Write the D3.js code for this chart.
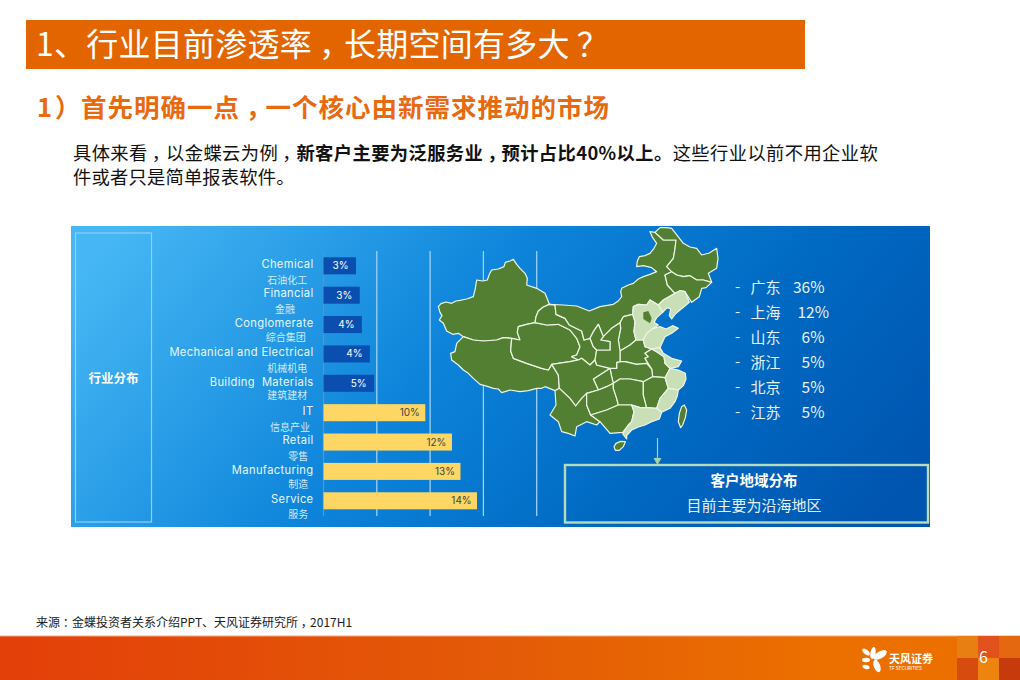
<!DOCTYPE html>
<html>
<head>
<meta charset="utf-8">
<script src="https://cdn.jsdelivr.net/npm/d3@7"></script>
<style>
  html, body { margin: 0; padding: 0; background: #fff; }
  svg { display: block; }
  text { font-family: "Noto Sans CJK SC", sans-serif; }
  .latin { font-family: Inter, "Noto Sans", sans-serif; }
</style>
</head>
<body>
<div id="slide"></div>
<script>
// industry bars
var industries = ["Chemical", "Financial", "Conglomerate", "Mechanical and Electrical", "Building  Materials", "IT", "Retail", "Manufacturing", "Service"];
var industriesZh = ["石油化工", "金融", "综合集团", "机械机电", "建筑建材", "信息产业", "零售", "制造", "服务"];
var barLengths = [3.05, 3.4, 3.6, 4.35, 4.75, 9.55, 12.05, 12.85, 14.4];
var barLabels = ["3%", "3%", "4%", "4%", "5%", "10%", "12%", "13%", "14%"];
var gridTicks = [0, 5, 10, 15, 20];

// customer regions
var regions = ["广东", "上海", "山东", "浙江", "北京", "江苏"];
var regionShares = ["36%", "12%", "6%", "5%", "5%", "5%"];

// province outlines in map units (0-900, 0-720)
var xinjiang = [[25,245],[33,236],[48,231],[65,235],[78,228],[90,226],[110,222],[130,215],[136,190],[140,165],[158,168],[172,165],[178,148],[185,135],[205,132],[222,125],[226,112],[240,108],[250,103],[260,118],[270,130],[285,145],[292,160],[290,180],[320,190],[345,205],[352,222],[358,238],[340,246],[325,258],[318,275],[315,293],[290,298],[265,305],[262,322],[270,345],[245,340],[220,338],[200,345],[160,348],[130,345],[100,335],[85,325],[68,328],[50,318],[40,295],[28,285],[36,272],[30,262]];
var tibet = [[100,335],[130,345],[160,348],[200,345],[220,338],[245,340],[242,378],[250,400],[290,415],[335,430],[355,435],[365,418],[385,450],[388,490],[375,497],[345,485],[335,490],[320,490],[295,497],[270,500],[240,495],[215,503],[205,492],[190,490],[165,482],[150,478],[130,460],[115,445],[100,435],[85,420],[65,405],[62,385],[75,380],[80,355]];
var qinghai = [[265,305],[290,298],[315,293],[350,300],[385,298],[420,315],[440,340],[450,365],[440,390],[425,395],[445,405],[420,410],[365,418],[355,435],[335,430],[290,415],[250,400],[242,378],[245,340],[270,345],[262,322]];
var gansu = [[315,293],[318,275],[325,258],[340,246],[358,238],[375,240],[378,268],[405,280],[418,300],[455,318],[462,345],[480,340],[490,365],[500,375],[495,405],[480,420],[455,400],[445,405],[425,395],[440,390],[450,365],[440,340],[420,315],[385,298],[350,300]];
var innerMongolia = [[358,238],[400,240],[440,243],[478,258],[510,245],[550,238],[565,228],[575,215],[572,200],[575,190],[595,180],[610,175],[625,162],[640,155],[660,148],[680,140],[665,128],[640,122],[620,125],[622,108],[628,95],[645,92],[660,85],[672,70],[680,55],[668,38],[660,20],[675,22],[700,45],[738,45],[735,72],[730,100],[710,125],[725,140],[705,150],[712,180],[735,205],[700,225],[685,240],[660,225],[650,240],[625,238],[610,245],[608,268],[580,275],[570,293],[545,310],[520,335],[505,298],[490,320],[480,340],[462,345],[455,318],[418,300],[405,280],[378,268],[375,240]];
var heilongjiang = [[675,22],[690,8],[710,8],[725,10],[742,32],[760,55],[780,66],[800,70],[815,90],[838,84],[860,70],[864,100],[860,130],[835,145],[845,172],[820,165],[800,165],[780,152],[760,155],[740,150],[725,140],[710,125],[730,100],[735,72],[738,45],[700,45]];
var jilin = [[705,150],[725,140],[740,150],[760,155],[780,152],[800,165],[820,165],[845,172],[828,188],[815,190],[808,215],[785,232],[765,200],[750,197],[735,205],[712,180]];
var liaoning = [[685,240],[700,225],[735,205],[750,197],[765,200],[778,232],[762,245],[750,255],[735,268],[725,282],[718,272],[722,252],[712,248],[698,262]];
var hebei = [[610,245],[625,238],[650,240],[660,225],[685,240],[698,262],[680,278],[672,292],[685,300],[670,310],[650,325],[640,345],[618,345],[612,320],[615,290],[608,268]];
var tianjinPocket = [[640,262],[655,258],[665,280],[660,295],[640,282]];
var shandong = [[650,325],[670,310],[690,305],[708,312],[728,302],[745,310],[725,325],[705,335],[698,350],[690,368],[665,372],[645,365],[640,345]];
var jiangsu = [[665,372],[690,368],[700,385],[725,400],[755,408],[745,425],[720,430],[705,415],[702,395],[680,380]];
var zhejiang = [[720,430],[745,435],[766,445],[768,462],[760,482],[745,495],[715,490],[705,458],[715,440]];
var fujian = [[715,490],[745,495],[742,512],[735,530],[720,550],[695,562],[680,550],[690,520]];
var guangdong = [[605,540],[630,548],[650,548],[680,550],[695,562],[688,582],[665,590],[645,600],[625,606],[605,615],[590,632],[590,642],[578,627],[595,600],[605,590],[612,560]];
var shanxi = [[570,293],[580,275],[608,268],[615,290],[612,320],[618,345],[600,360],[570,378],[565,345],[572,310]];
var henan = [[570,378],[600,360],[618,345],[640,345],[645,365],[665,372],[645,385],[655,395],[645,400],[665,432],[650,415],[620,418],[585,410],[570,410]];
var anhui = [[645,385],[665,372],[680,380],[702,395],[705,415],[720,430],[715,440],[705,458],[668,455],[665,432],[645,400],[655,395]];
var hubei = [[560,412],[570,410],[585,410],[620,418],[650,415],[665,432],[668,455],[640,470],[600,462],[570,462],[550,475],[545,455],[540,430],[560,430]];
var chongqing = [[490,462],[540,430],[545,455],[550,475],[530,485],[505,495]];
var sichuan = [[365,418],[420,410],[445,405],[455,400],[480,420],[495,405],[500,420],[540,430],[490,462],[505,495],[470,505],[455,520],[437,543],[420,520],[388,490],[385,450]];
var shaanxi = [[520,335],[545,310],[570,293],[572,310],[565,345],[570,378],[570,410],[560,412],[560,430],[540,430],[500,420],[495,405],[500,375],[510,375],[540,375],[540,350],[512,345]];
var ningxia = [[490,320],[505,298],[520,335],[512,345],[540,350],[540,375],[510,375],[500,375],[490,365],[480,340]];
var yunnan = [[375,497],[388,490],[420,520],[437,543],[455,520],[470,505],[470,540],[482,570],[510,590],[500,600],[470,590],[440,605],[435,633],[415,625],[395,620],[385,590],[360,570],[378,540]];
var guizhou = [[470,505],[505,495],[530,485],[550,475],[550,490],[560,520],[565,540],[530,555],[482,570],[470,540]];
var hunan = [[550,475],[570,462],[600,462],[640,470],[640,510],[650,548],[630,548],[605,540],[565,540],[560,520],[550,490]];
var jiangxi = [[640,470],[668,455],[705,458],[715,490],[690,520],[680,550],[650,548],[640,510]];
var guangxi = [[482,570],[530,555],[565,540],[605,540],[612,560],[605,590],[595,600],[578,622],[540,625],[510,590]];
var hainan = [[552,665],[558,655],[572,649],[586,650],[580,665],[568,676],[556,676]];
var taiwan = [[745,590],[748,565],[755,545],[763,540],[770,555],[766,578],[758,600],[752,608]];

var darkProvinces = [xinjiang, tibet, qinghai, gansu, innerMongolia, heilongjiang, jilin, shanxi, henan, anhui, hubei, chongqing, sichuan, shaanxi, ningxia, yunnan, guizhou, hunan, jiangxi, guangxi, hainan, taiwan];
var lightProvinces = [liaoning, hebei, shandong, jiangsu, zhejiang, fujian, guangdong];

var svg = d3.select("#slide").append("svg").attr("width", 1020).attr("height", 680);
var defs = svg.append("defs");

function addGradient(id, x1, y1, x2, y2, stops) {
  var g = defs.append("linearGradient").attr("id", id)
    .attr("gradientUnits", "userSpaceOnUse")
    .attr("x1", x1).attr("y1", y1).attr("x2", x2).attr("y2", y2);
  stops.forEach(function (s) {
    g.append("stop").attr("offset", s[0]).attr("stop-color", s[1]);
  });
}
addGradient("panelFill", 200, 130, 800, 620, [[0, "#46b7f4"], [0.42, "#0d84da"], [0.72, "#0069c2"], [1, "#0055b0"]]);
addGradient("footFill", 0, 0, 820, 0, [[0, "#e33f09"], [0.6, "#e35a07"], [1, "#ec7000"]]);

// the original font centres full-width punctuation in its cell, so push it over
// and take the same amount back off its advance
function addCjk(parent, str, bold) {
  str.split(/([，：？])/).filter(p => p != "").forEach(function (p) {
    var t = parent.append("tspan").text(p);
    if (bold) t.attr("font-weight", 700);
    if (/[，：？]/.test(p)) t.attr("dx", "0.22em").style("letter-spacing", "-0.22em");
  });
}

// title bar
svg.append("rect").attr("x", 26).attr("y", 20).attr("width", 779).attr("height", 49).attr("fill", "#e36500");
var title = svg.append("text").attr("x", 36).attr("y", 56).attr("fill", "#fff").attr("font-size", 32).attr("letter-spacing", 0.25);
addCjk(title, "1、行业目前渗透率，长期空间有多大？");

svg.append("text").attr("x", 37).attr("y", 117).attr("fill", "#e8690f").attr("font-size", 25.5).attr("font-weight", 700).text("1");
svg.append("text").attr("x", 55).attr("y", 117).attr("fill", "#e8690f").attr("font-size", 25.5).attr("font-weight", 700).text("）");
var subtitle = svg.append("text").attr("x", 81).attr("y", 117).attr("fill", "#e8690f").attr("font-size", 25.5)
  .attr("font-weight", 700).attr("letter-spacing", 1);
addCjk(subtitle, "首先明确一点，一个核心由新需求推动的市场");

// intro text
var intro = svg.append("text").attr("x", 73).attr("y", 160).attr("font-size", 18.3).attr("letter-spacing", 0.4).attr("fill", "#111");
addCjk(intro, "具体来看，以金蝶云为例，");
addCjk(intro, "新客户主要为泛服务业，预计占比40%以上。", true);
addCjk(intro, "这些行业以前不用企业软");
svg.append("text").attr("x", 73).attr("y", 184).attr("font-size", 18.3).attr("letter-spacing", 0.2).attr("fill", "#111").text("件或者只是简单报表软件。");

// blue panel
svg.append("rect").attr("x", 71).attr("y", 226).attr("width", 859).attr("height", 301).attr("fill", "url(#panelFill)");
svg.append("rect").attr("x", 75.5).attr("y", 233).attr("width", 76).attr("height", 289)
  .attr("fill", "none").attr("stroke", "#8fd0f5").attr("stroke-width", 1.2);
svg.append("text").attr("x", 113.5).attr("y", 383).attr("text-anchor", "middle").attr("fill", "#fff")
  .attr("font-size", 12.5).attr("font-weight", 700).text("行业分布");

// bar chart
var x = d3.scaleLinear().domain([0, 20]).range([323.5, 536.7]);
var y = d3.scaleBand().domain(industries).range([257.3, 509.3]).paddingInner(0.42);

svg.append("g").selectAll("line").data(gridTicks).join("line")
  .attr("x1", d => x(d)).attr("x2", d => x(d))
  .attr("y1", 251).attr("y2", 516)
  .attr("stroke", (d, i) => i == 0 ? "#5f93bd" : "#9fd0f0")
  .attr("stroke-width", 1.3);

svg.append("g").selectAll("rect").data(industries).join("rect")
  .attr("x", x(0))
  .attr("y", d => y(d))
  .attr("width", (d, i) => x(barLengths[i]) - x(0))
  .attr("height", y.bandwidth())
  .attr("fill", (d, i) => i < 5 ? "#0a4fb0" : "#fdd664");

svg.append("g").selectAll("text").data(barLabels).join("text")
  .attr("class", "latin")
  .attr("x", (d, i) => x(barLengths[i]) - 15.5)
  .attr("y", (d, i) => y(industries[i]) + y.bandwidth() / 2 + 3.5)
  .attr("text-anchor", "middle")
  .attr("font-size", 10)
  .attr("fill", (d, i) => i < 5 ? "#fff" : "#444")
  .text(d => d);

svg.append("g").selectAll("text").data(industries).join("text")
  .attr("class", "latin")
  .attr("x", 313.5)
  .attr("y", d => y(d) + y.bandwidth() / 2 + 2.2)
  .attr("text-anchor", "end")
  .attr("font-size", 11.2)
  .attr("letter-spacing", 0.35)
  .attr("style", "white-space:pre")
  .attr("fill", "#e8f5fd")
  .text(d => d);

// the chinese labels do not sit evenly in the original
var zhCentre = [287.3, 285, 285.7, 287.3, 287.3, 290, 298.3, 298.3, 298.3];
var zhMiddle = [280, 309, 337.7, 368.3, 395.8, 427.3, 456.7, 484.8, 514.3];
svg.append("g").selectAll("text").data(industriesZh).join("text")
  .attr("x", (d, i) => zhCentre[i])
  .attr("y", (d, i) => zhMiddle[i] + 3.6)
  .attr("text-anchor", "middle")
  .attr("font-size", 10)
  .attr("fill", "#cfe9fa")
  .text(d => d);

// map
var mapX = d3.scaleLinear().domain([0, 900]).range([430, 730]);
var mapY = d3.scaleLinear().domain([0, 720]).range([225, 465]);
var outline = d3.line().x(d => mapX(d[0])).y(d => mapY(d[1])).curve(d3.curveLinearClosed);

var map = svg.append("g").attr("stroke", "#eef5e6").attr("stroke-width", 1.2).attr("stroke-linejoin", "round");
map.selectAll("path.dark").data(darkProvinces).join("path").attr("class", "dark").attr("d", outline).attr("fill", "#527f31");
map.selectAll("path.light").data(lightProvinces).join("path").attr("class", "light").attr("d", outline).attr("fill", "#c9dfb8");
map.append("path").datum(tianjinPocket).attr("d", outline).attr("fill", "#527f31").attr("stroke", "none");

// region list
var listY = d3.scalePoint().domain(regions).range([287, 412]);
var listRows = svg.append("g").attr("fill", "#e6f1fa").attr("font-size", 15);
listRows.selectAll("text.dash").data(regions).join("text").attr("class", "dash")
  .attr("x", 735).attr("y", d => listY(d) + 5).text("-");
listRows.selectAll("text.name").data(regions).join("text").attr("class", "name")
  .attr("x", 750.5).attr("y", d => listY(d) + 5.5).text(d => d);
listRows.selectAll("text.share").data(regions).join("text").attr("class", "share")
  .attr("x", (d, i) => i == 1 ? 829 : 824.5)
  .attr("y", d => listY(d) + 5.5)
  .attr("text-anchor", "end")
  .attr("font-size", 15.5)
  .text((d, i) => regionShares[i]);

// arrow and summary box
svg.append("line").attr("x1", 657.5).attr("x2", 657.5).attr("y1", 438).attr("y2", 460)
  .attr("stroke", "#a8d2ac").attr("stroke-width", 1.2);
svg.append("path").attr("d", d3.line()([[653.5, 458], [661.5, 458], [657.5, 465]])).attr("fill", "#a8d2ac");
svg.append("rect").attr("x", 565).attr("y", 465).attr("width", 363).attr("height", 57.5)
  .attr("fill", "none").attr("stroke", "#b4dcbc").attr("stroke-width", 2.4);
svg.append("text").attr("x", 754).attr("y", 486).attr("text-anchor", "middle").attr("fill", "#fff")
  .attr("font-size", 14.5).attr("font-weight", 700).text("客户地域分布");
svg.append("text").attr("x", 754).attr("y", 511).attr("text-anchor", "middle").attr("fill", "#e6f1fa")
  .attr("font-size", 15).text("目前主要为沿海地区");

// source
var source = svg.append("text").attr("x", 36).attr("y", 627).attr("font-size", 12).attr("fill", "#222");
addCjk(source, "来源：金蝶投资者关系介绍PPT、天风证券研究所，2017H1");

// footer
svg.append("rect").attr("x", 0).attr("y", 636).attr("width", 1020).attr("height", 44).attr("fill", "url(#footFill)");
svg.append("rect").attr("x", 0).attr("y", 635.5).attr("width", 1020).attr("height", 1).attr("fill", "#f3a982");
var tileColors = ["#e77f12", "#e2521c", "#e3680f", "#d84b0e", "#ee8410", "#c63a0c"];
svg.append("g").selectAll("rect").data(tileColors).join("rect")
  .attr("x", (d, i) => 957 + (i % 3) * 21)
  .attr("y", (d, i) => i < 3 ? 636 : 658)
  .attr("width", 21).attr("height", 22)
  .attr("fill", d => d);
svg.append("text").attr("x", 983.5).attr("y", 663).attr("text-anchor", "middle").attr("fill", "#fff")
  .attr("font-size", 16).attr("font-family", "Liberation Sans").text("6");

// logo petals
var petals = [[873, 653, 2.6, 6, 10], [866, 652, 2.2, 4.5, -50], [866, 660, 4, 2.2, 0], [866, 667, 3.6, 2, 15], [880, 655, 7.5, 3.6, -30], [877, 666, 3.2, 6.5, -20]];
svg.append("g").selectAll("ellipse").data(petals).join("ellipse")
  .attr("rx", d => d[2]).attr("ry", d => d[3])
  .attr("transform", d => "translate(" + d[0] + "," + d[1] + ") rotate(" + d[4] + ")")
  .attr("fill", "#fff");
svg.append("text").attr("x", 889).attr("y", 663).attr("fill", "#fff").attr("font-size", 11).attr("font-weight", 700).text("天风证券");
svg.append("text").attr("x", 889).attr("y", 670).attr("fill", "#fff").attr("font-size", 4.5).attr("class", "latin").text("TF SECURITIES");
</script>
</body>
</html>
